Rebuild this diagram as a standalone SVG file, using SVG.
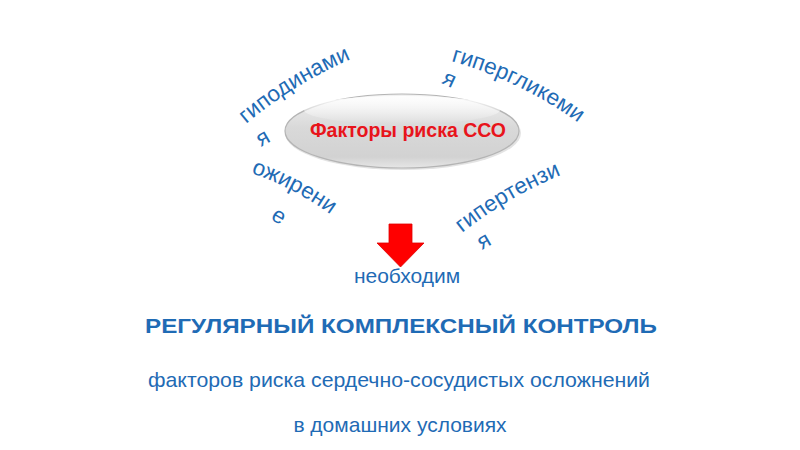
<svg xmlns="http://www.w3.org/2000/svg" width="800" height="450" viewBox="0 0 800 450">
<style>
.blue{fill:#1F6BB5;font-family:"Liberation Sans",Arial,sans-serif;font-size:21px}
.arc{font-size:22.5px}
.bold{font-weight:bold}
.title{fill:#E8141B;font-family:"Liberation Sans",Arial,sans-serif;font-size:19.5px;font-weight:bold}
</style>
<defs>
<linearGradient id="gBody" x1="0" y1="0" x2="0" y2="1">
<stop offset="0" stop-color="#f2f2f2"/>
<stop offset="0.45" stop-color="#d9d9d9"/>
<stop offset="0.85" stop-color="#d2d2d2"/>
<stop offset="1" stop-color="#e6e6e6"/>
</linearGradient>
<linearGradient id="gHi" x1="0" y1="0" x2="0" y2="1">
<stop offset="0" stop-color="#ffffff" stop-opacity="0.95"/>
<stop offset="1" stop-color="#ffffff" stop-opacity="0"/>
</linearGradient>
<path id="p1" d="M 246 124 A 420 420 0 0 1 380 48"/>
<path id="p2" d="M 451 61 A 400 400 0 0 1 600 140"/>
<path id="p3" d="M 251 173 A 300 300 0 0 1 350 230"/>
<path id="p4" d="M 462 233 A 420 420 0 0 1 585 166"/>
</defs>
<rect width="800" height="450" fill="#ffffff"/>
<g id="factors">
<ellipse cx="403" cy="133" rx="118" ry="37" fill="#c8c8c8" opacity="0.5"/>
<ellipse cx="402" cy="131" rx="117" ry="37" fill="url(#gBody)" stroke="#b4b4b4" stroke-width="1.2"/>
<ellipse cx="402" cy="110" rx="98" ry="14" fill="url(#gHi)"/>
<text class="title" x="408" y="137" text-anchor="middle">Факторы риска ССО</text>
</g>
<g id="hypodynamia">
<text class="blue arc"><textPath href="#p1">гиподинами</textPath></text>
<text class="blue arc" x="261" y="147" transform="rotate(-30 261 147)">я</text>
</g>
<g id="hyperglycemia">
<text class="blue arc"><textPath href="#p2">гипергликеми</textPath></text>
<text class="blue arc" x="441" y="83" transform="rotate(25 441 83)">я</text>
</g>
<g id="obesity">
<text class="blue arc"><textPath href="#p3">ожирени</textPath></text>
<text class="blue arc" x="270" y="219" transform="rotate(30 270 219)">е</text>
</g>
<g id="hypertension">
<text class="blue arc"><textPath href="#p4">гипертензи</textPath></text>
<text class="blue arc" x="482" y="250" transform="rotate(-30 482 250)">я</text>
</g>
<g id="connectors">
<path d="M 389 224 L 412 224 L 412 243 L 424 243 L 400.5 267 L 377 243 L 389 243 Z" fill="#FF0000" stroke="#E00000" stroke-width="0.8"/>
</g>
<g id="labels">
<text class="blue" x="407" y="283" text-anchor="middle">необходим</text>
<text class="blue bold" x="145" y="333" textLength="512" lengthAdjust="spacingAndGlyphs">РЕГУЛЯРНЫЙ КОМПЛЕКСНЫЙ КОНТРОЛЬ</text>
<text class="blue" x="148" y="387" textLength="502" lengthAdjust="spacingAndGlyphs">факторов риска сердечно-сосудистых осложнений</text>
<text class="blue" x="400" y="432" text-anchor="middle">в домашних условиях</text>
</g>
</svg>
